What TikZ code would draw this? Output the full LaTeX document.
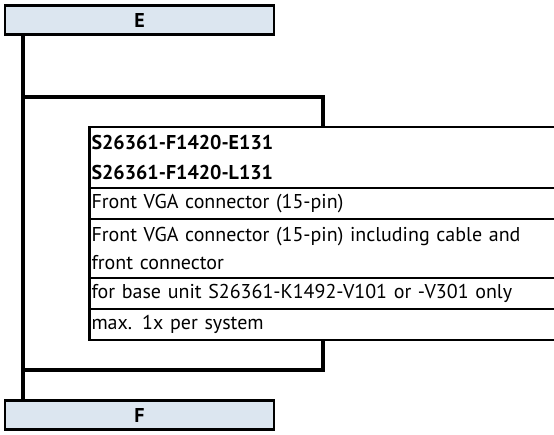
\documentclass[tikz,border=0pt]{standalone}
\usepackage{fontspec}
\setmainfont{PT Sans}
\definecolor{boxfill}{HTML}{DCE6F0}
\begin{document}
\begin{tikzpicture}[x=1pt,y=-1pt,
  endbox/.style={draw=black,line width=2.5pt,fill=boxfill,minimum width=269pt,minimum height=29pt,inner sep=0pt,font=\fontsize{20}{22}\selectfont\bfseries},
  row/.style={draw=black,line width=2.2pt,anchor=north west,outer sep=0pt,minimum width=480pt,text width=476pt,align=left,inner xsep=1pt,inner ysep=0pt,font=\fontsize{20}{28}\selectfont},
  conn/.style={line width=4.5pt}]
\useasboundingbox (0,0) rectangle (554,434);
\clip (0,0) rectangle (554,434);
\node[endbox] (E) at (139.5,20) {E};
\node[endbox] (F) at (139.5,415) {F};
\node[row,minimum height=61pt] (r1) at (89.5,127) {\bfseries S26361-F1420-E131\\[2pt]\bfseries S26361-F1420-L131};
\node[row,minimum height=31pt] (r2) at (89.5,188) {Front VGA connector (15-pin)};
\node[row,minimum height=59pt] (r3) at (89.5,219) {Front VGA connector (15-pin) including cable and\\front connector};
\node[row,minimum height=31pt] (r4) at (89.5,278) {for base unit S26361-K1492-V101 or -V301 only};
\node[row,minimum height=31pt] (r5) at (89.5,309) {max. 1x per system};
\coordinate (top) at (23,97);
\coordinate (bot) at (23,370);
\draw[conn] (E.south -| top) -- (F.north -| top);
\draw[conn] (top) -- (top -| 323,0) -- (r1.north -| 323,0);
\draw[conn] (r5.south -| 323,0) -- (bot -| 323,0) -- (bot);
\end{tikzpicture}
\end{document}
